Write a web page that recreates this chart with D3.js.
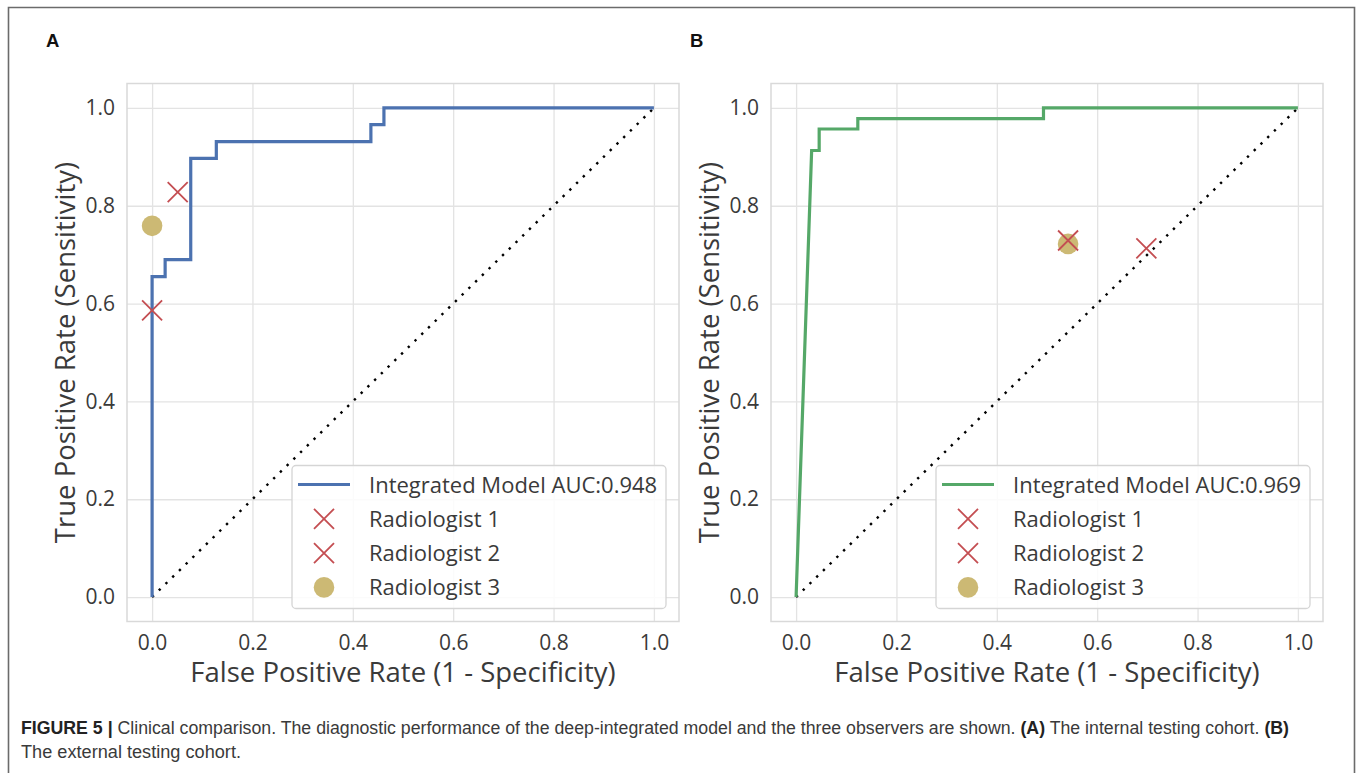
<!DOCTYPE html>
<html>
<head>
<meta charset="utf-8">
<script src="https://cdn.jsdelivr.net/npm/d3@7"></script>
<style>
  body { margin: 0; background: #fff; }
  svg { display: block; }
  .tick text { font-family: "Open Sans", sans-serif; font-size: 21px; fill: #3a3a3a; }
  .tick line { stroke: #e3e3e3; stroke-width: 1.3; }
  .axlabel { font-family: "Open Sans", sans-serif; font-size: 27.5px; fill: #3a3a3a; }
  .legtext { font-family: "Open Sans", sans-serif; font-size: 22px; fill: #3a3a3a; }
</style>
</head>
<body>
<div id="chart"></div>
<script>
// ROC curve, panel A (internal testing cohort)
var fprA = [0, 0, 0.026, 0.026, 0.077, 0.077, 0.128, 0.128, 0.436, 0.436, 0.462, 0.462, 1.0]
var tprA = [0, 0.655, 0.655, 0.690, 0.690, 0.897, 0.897, 0.931, 0.931, 0.966, 0.966, 1.0, 1.0]
// ROC curve, panel B (external testing cohort)
var fprB = [0, 0.031, 0.046, 0.046, 0.123, 0.123, 0.493, 0.493, 1.0]
var tprB = [0, 0.913, 0.913, 0.957, 0.957, 0.978, 0.978, 1.0, 1.0]

var readers = ['Radiologist 1', 'Radiologist 2', 'Radiologist 3']
var readerFprA = [0.051, 0.0, 0.0]
var readerTprA = [0.828, 0.586, 0.759]
var readerFprB = [0.542, 0.698, 0.542]
var readerTprB = [0.729, 0.713, 0.722]

var aucA = '0.948'
var aucB = '0.969'
var ticks = [0, 0.2, 0.4, 0.6, 0.8, 1.0]

var W = 1357, H = 773

var svg = d3.select('#chart').append('svg').attr('width', W).attr('height', H)
svg.append('rect').attr('width', W).attr('height', H).attr('fill', '#fff')

// outer figure frame
svg.append('path')
  .attr('d', 'M8.5,' + (H + 5) + 'V7.5H1354.5V' + (H + 5))
  .attr('fill', 'none').attr('stroke', '#6b6b6b').attr('stroke-width', 1.6)

var panels = [
  {left: 127, letter: 'A', fpr: fprA, tpr: tprA, color: '#4c72b0', auc: aucA, rf: readerFprA, rt: readerTprA},
  {left: 771, letter: 'B', fpr: fprB, tpr: tprB, color: '#55a868', auc: aucB, rf: readerFprB, rt: readerTprB}
]

var plotTop = 83.5, plotBottom = 621.5, pw = 552
var red = '#c44e52', gold = '#ccb974'

function cross(sel, s) {
  sel.append('path')
    .attr('d', 'M' + (-s) + ',' + (-s) + 'L' + s + ',' + s + 'M' + (-s) + ',' + s + 'L' + s + ',' + (-s))
    .attr('stroke', red).attr('stroke-width', 1.8).attr('fill', 'none')
}

panels.forEach(function(p) {
  var x = d3.scaleLinear().domain([-0.05, 1.05]).range([p.left, p.left + pw])
  var y = d3.scaleLinear().domain([-0.05, 1.05]).range([plotBottom, plotTop])
  var g = svg.append('g')

  // grid + tick labels
  var gx = g.append('g').attr('transform', 'translate(0,' + plotBottom + ')')
    .call(d3.axisBottom(x).tickValues(ticks).tickFormat(d3.format('.1f'))
      .tickSize(-(plotBottom - plotTop)).tickPadding(14))
  var gy = g.append('g').attr('transform', 'translate(' + p.left + ',0)')
    .call(d3.axisLeft(y).tickValues(ticks).tickFormat(d3.format('.1f'))
      .tickSize(-pw).tickPadding(12))
  gx.select('.domain').remove()
  gy.select('.domain').remove()

  // spines
  g.append('rect').attr('x', p.left).attr('y', plotTop).attr('width', pw).attr('height', plotBottom - plotTop)
    .attr('fill', 'none').attr('stroke', '#d9d9d9').attr('stroke-width', 1.5)

  // chance diagonal
  g.append('path')
    .attr('d', d3.line().x(function(d) { return x(d) }).y(function(d) { return y(d) })([0, 1]))
    .attr('stroke', '#000').attr('stroke-width', 2.4).attr('stroke-dasharray', '2.4 7')
    .attr('fill', 'none')

  // ROC curve
  var pts = p.fpr.map(function(f, i) { return [f, p.tpr[i]] })
  g.append('path')
    .attr('d', d3.line().x(function(d) { return x(d[0]) }).y(function(d) { return y(d[1]) })(pts))
    .attr('stroke', p.color).attr('stroke-width', 3.2).attr('fill', 'none')

  // readers: circle first, crosses over it
  g.append('circle').attr('cx', x(p.rf[2])).attr('cy', y(p.rt[2])).attr('r', 10.3).attr('fill', gold)
  for (var i = 0; i < 2; i++) {
    g.append('g').attr('transform', 'translate(' + x(p.rf[i]) + ',' + y(p.rt[i]) + ')').call(cross, 10)
  }

  // axis labels
  g.append('text').attr('class', 'axlabel').attr('x', x(0.5)).attr('y', 682)
    .attr('text-anchor', 'middle').text('False Positive Rate (1 - Specificity)')
  g.append('text').attr('class', 'axlabel')
    .attr('transform', 'translate(' + (p.left - 52) + ',' + y(0.5) + ') rotate(-90)')
    .attr('text-anchor', 'middle').text('True Positive Rate (Sensitivity)')

  // panel letter
  svg.append('text').attr('x', p.left - 81).attr('y', 47)
    .attr('font-family', 'Liberation Sans, Arial, sans-serif').attr('font-weight', 'bold')
    .attr('font-size', 18.5).attr('fill', '#111').text(p.letter)

  // legend
  var lx = p.left + pw - 13 - 374, ly = plotBottom - 13 - 143
  var lg = g.append('g').attr('transform', 'translate(' + lx + ',' + ly + ')')
  lg.append('rect').attr('width', 374).attr('height', 143).attr('rx', 4)
    .attr('fill', 'rgba(255,255,255,0.85)').attr('stroke', '#d5d5d5').attr('stroke-width', 1.3)
  var rowY = function(i) { return 19 + i * 34.3 }
  lg.append('line').attr('x1', 6).attr('x2', 58).attr('y1', rowY(0)).attr('y2', rowY(0))
    .attr('stroke', p.color).attr('stroke-width', 3.2)
  lg.append('g').attr('transform', 'translate(32,' + rowY(1) + ')').call(cross, 10)
  lg.append('g').attr('transform', 'translate(32,' + rowY(2) + ')').call(cross, 10)
  lg.append('circle').attr('cx', 32).attr('cy', rowY(3)).attr('r', 10.3).attr('fill', gold)
  var labels = ['Integrated Model AUC:' + p.auc].concat(readers)
  labels.forEach(function(t, i) {
    lg.append('text').attr('class', 'legtext').attr('x', 77).attr('y', rowY(i) + 8).text(t)
  })
})

// caption
var cap = svg.append('g').attr('font-family', '"Liberation Sans Narrow", "Liberation Sans", Arial, sans-serif')
  .attr('font-size', 17.5).attr('fill', '#3a3a3a')
var l1 = cap.append('text').attr('x', 21).attr('y', 734)
l1.append('tspan').attr('font-weight', 'bold').attr('fill', '#222').text('FIGURE 5 | ')
l1.append('tspan').text('Clinical comparison. The diagnostic performance of the deep-integrated model and the three observers are shown. ')
l1.append('tspan').attr('font-weight', 'bold').attr('fill', '#222').text('(A)')
l1.append('tspan').text(' The internal testing cohort. ')
l1.append('tspan').attr('font-weight', 'bold').attr('fill', '#222').text('(B)')
l1.attr('textLength', 1268).attr('lengthAdjust', 'spacingAndGlyphs')
cap.append('text').attr('x', 21).attr('y', 758).text('The external testing cohort.')
  .attr('textLength', 220).attr('lengthAdjust', 'spacingAndGlyphs')
</script>
</body>
</html>
